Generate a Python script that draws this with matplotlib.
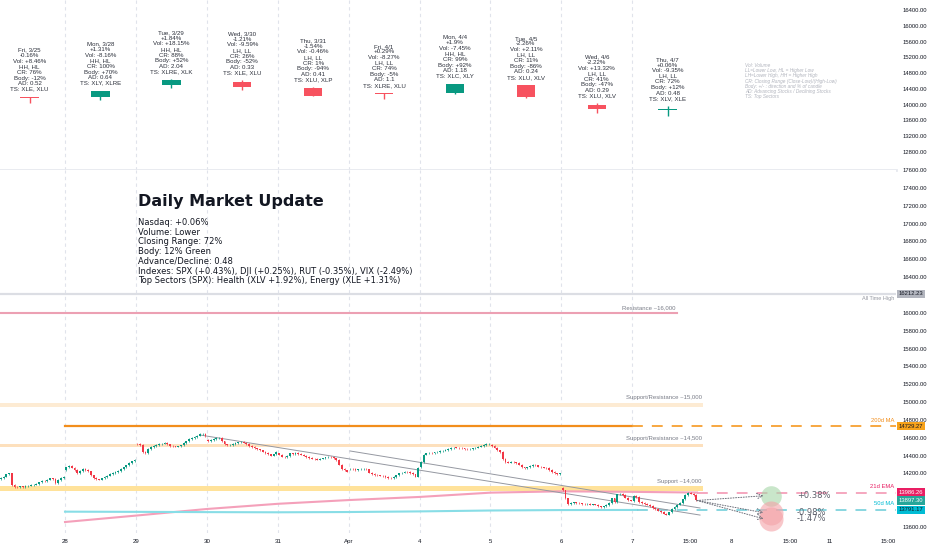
import matplotlib
matplotlib.use("Agg")
import matplotlib.pyplot as plt
import matplotlib.transforms as mtrans

GREEN = "#089981"
RED = "#f23645"
GRID = "#e0e3eb"
TXT = "#131722"
GRAY = "#787b86"

# ---- daily candles (top panel) ----
day_names = ["Fri, 3/25", "Mon, 3/28", "Tue, 3/29", "Wed, 3/30", "Thu, 3/31",
             "Fri, 4/1", "Mon, 4/4", "Tue, 4/5", "Wed, 4/6", "Thu, 4/7"]
day_index = [-1, 0, 1, 2, 3, 4, 5, 6, 7, 8]
d_open = [14188, 14184, 14502, 14567, 14427, 14268, 14293, 14488, 14002, 13867]
d_high = [14205, 14356, 14647, 14620, 14440, 14300, 14535, 14500, 14030, 13967]
d_low = [14040, 14110, 14420, 14380, 14218, 14150, 14275, 14168, 13790, 13717]
d_close = [14169, 14355, 14620, 14442, 14220, 14261, 14532, 14204, 13889, 13897]

pct_chg = ["-0.16%", "+1.31%", "+1.84%", "-1.21%", "-1.54%", "+0.29%", "+1.9%", "-2.26%", "-2.22%", "+0.06%"]
vol_chg = ["+8.46%", "-8.16%", "+18.15%", "-9.59%", "-0.46%", "-8.27%", "-7.45%", "+2.11%", "+13.32%", "-9.35%"]
structure = ["HH, HL", "HH, HL", "HH, HL", "LH, LL", "LH, LL", "LH, LL", "HH, HL", "LH, LL", "LH, LL", "LH, LL"]
closing_range = ["76%", "100%", "88%", "26%", "1%", "74%", "99%", "11%", "41%", "72%"]
body_pct = ["-12%", "+70%", "+52%", "-52%", "-94%", "-5%", "+92%", "-86%", "-47%", "+12%"]
adv_dec = ["0.52", "0.64", "2.04", "0.33", "0.41", "1.1", "1.18", "0.24", "0.29", "0.48"]
top_sectors = ["XLE, XLU", "XLY, XLRE", "XLRE, XLK", "XLE, XLU", "XLU, XLP",
               "XLRE, XLU", "XLC, XLY", "XLU, XLV", "XLU, XLV", "XLV, XLE"]

# ---- 15 min closes (bottom panel) ----
open_0325 = 14140
c_0325 = [14150, 14165, 14190, 14200, 14070, 14050, 14045, 14055, 14050, 14060, 14065, 14070,
          14075, 14080, 14100, 14115, 14110, 14130, 14145, 14140, 14090, 14125, 14150, 14165]
open_0328 = 14235
c_0328 = [14270, 14285, 14265, 14240, 14205, 14230, 14255, 14240, 14225, 14180, 14150, 14135, 14130,
          14145, 14160, 14175, 14195, 14205, 14215, 14230, 14250, 14270, 14290, 14315, 14335, 14352]
open_0329 = 14535
c_0329 = [14530, 14520, 14440, 14430, 14475, 14495, 14510, 14520, 14530, 14535, 14540, 14525, 14510,
          14505, 14500, 14505, 14515, 14540, 14560, 14585, 14595, 14610, 14625, 14640, 14645, 14620]
open_0330 = 14575
c_0330 = [14560, 14575, 14585, 14595, 14600, 14560, 14525, 14515, 14520, 14530, 14540, 14550, 14555,
          14545, 14530, 14510, 14495, 14480, 14470, 14460, 14445, 14430, 14415, 14400, 14415, 14440]
open_0331 = 14425
c_0331 = [14410, 14390, 14380, 14395, 14425, 14420, 14430, 14420, 14410, 14400, 14385, 14375, 14365,
          14360, 14355, 14365, 14370, 14380, 14385, 14380, 14370, 14350, 14300, 14250, 14235, 14220]
open_0401 = 14250
c_0401 = [14255, 14250, 14240, 14245, 14250, 14255, 14245, 14210, 14195, 14185, 14180, 14175, 14170,
          14160, 14150, 14145, 14160, 14180, 14200, 14210, 14220, 14215, 14205, 14190, 14165, 14260]
open_0404 = 14270
c_0404 = [14330, 14410, 14425, 14430, 14425, 14435, 14440, 14450, 14455, 14465, 14475, 14485, 14490,
          14488, 14485, 14480, 14475, 14470, 14475, 14480, 14490, 14500, 14510, 14520, 14530, 14535]
open_0405 = 14520
c_0405 = [14510, 14490, 14460, 14440, 14360, 14330, 14320, 14330, 14325, 14315, 14300, 14270, 14260,
          14270, 14285, 14295, 14290, 14275, 14270, 14265, 14260, 14240, 14215, 14200, 14195, 14200]
open_0406 = 14040
c_0406 = [14010, 13920, 13860, 13870, 13875, 13870, 13865, 13860, 13855, 13860, 13850, 13855, 13850,
          13830, 13820, 13830, 13845, 13870, 13920, 13880, 13965, 13975, 13960, 13930, 13900, 13895]
open_0407 = 13890
c_0407 = [13950, 13935, 13880, 13870, 13860, 13850, 13835, 13815, 13800, 13785, 13770, 13750,
          13740, 13765, 13800, 13825, 13850, 13870, 13910, 13960, 13985, 13975, 13960, 13897.30]

sessions = [(-1, 2, open_0325, c_0325), (0, 0, open_0328, c_0328), (1, 0, open_0329, c_0329),
            (2, 0, open_0330, c_0330), (3, 0, open_0331, c_0331), (4, 0, open_0401, c_0401),
            (5, 0, open_0404, c_0404), (6, 0, open_0405, c_0405), (7, 0, open_0406, c_0406),
            (8, 0, open_0407, c_0407)]
BARS_PER_DAY = 26

# ---- levels / indicators ----
ath = 16212.23
resistance = 16000
sr_15000 = (14950, 14995)
sr_14500 = (14495, 14535)
support_14000 = (14000, 14055)
ma200 = 14729.27
ema21_x = [0, 1, 2, 3, 4, 5, 6, 7, 8, 8.914]
ema21 = [13656, 13728, 13802, 13860, 13902, 13937, 13985, 14000, 13994, 13986.26]
ma50_x = [0, 1, 2, 3, 4, 5, 6, 7, 8.07]
ma50 = [13772, 13770, 13767, 13765, 13768, 13775, 13785, 13790, 13791.17]
last_close = 13897.30
trend_a = ([1.904, 8.956], [14631, 13734])
trend_b = ([4.02, 8.956], [14452, 13813])
targets = [0.38, -0.98, -1.47]

top_ticks = list(range(12800, 16401, 400))
bottom_ticks = [13600, 14200, 14400, 14600, 14800, 15000, 15200, 15400, 15600, 15800,
                16000, 16400, 16600, 16800, 17000, 17200, 17400, 17600]
x_ticks = [0, 1, 2, 3, 4, 5, 6, 7, 8, 8.82, 9.393, 10.226, 10.79, 11.608]
x_labels = ["28", "29", "30", "31", "Apr", "4", "5", "6", "7", "15:00", "8", "15:00", "11", "15:00"]

plt.rcParams["font.family"] = ["DejaVu Sans"]

fig = plt.figure(figsize=(9.32, 5.5), dpi=100)
W = 896 / 932
ax_top = fig.add_axes([0, 1 - 170 / 550, W, 170 / 550])
ax = fig.add_axes([0, 1 - 533 / 550, W, 363 / 550])
XLIM = (-0.917, 11.72)

for a in (ax_top, ax):
    a.set_xlim(*XLIM)
    for s in a.spines.values():
        s.set_visible(False)
    a.yaxis.tick_right()
    a.tick_params(axis="y", length=0, pad=5, labelsize=4.2, labelcolor=TXT)
    for d in range(0, 9):
        a.axvline(d, color=GRID, lw=0.8, dashes=(3, 3), zorder=0)

ax_top.spines["bottom"].set_visible(True)
ax_top.spines["bottom"].set_color("#e7e9ef")
ax_top.spines["bottom"].set_linewidth(2)

# top panel
ax_top.set_ylim(12344, 16654)
ax_top.set_yticks(top_ticks)
ax_top.set_yticklabels([f"{v:.2f}" for v in top_ticks], family="Liberation Sans")
ax_top.set_xticks([])
day_x = [d + 0.5 for d in day_index]
colors_top = [GREEN if c >= o else "#f7525f" for o, c in zip(d_open, d_close)]
ax_top.vlines(day_x, d_low, d_high, colors=colors_top, lw=1.0, zorder=3)
ax_top.bar(day_x, [max(abs(c - o), 30) for o, c in zip(d_open, d_close)], 0.26,
           bottom=[min(o, c) for o, c in zip(d_open, d_close)], color=colors_top, zorder=4)
for i, x in enumerate(day_x):
    txt = "\n".join([day_names[i], pct_chg[i], "Vol: " + vol_chg[i], structure[i],
                     "CR: " + closing_range[i], "Body: " + body_pct[i], "AD: " + adv_dec[i],
                     "TS: " + top_sectors[i]])
    ax_top.annotate(txt, (x, d_high[i]), xytext=(0, 3.5), textcoords="offset points",
                    ha="center", va="bottom", fontsize=4.4, linespacing=1.15,
                    family="Liberation Sans", color="#2a2e39")

legend_txt = ("Vol: Volume\nLL=Lower Low, HL = Higher Low\nLH=Lower High, HH = Higher High\n"
              "CR: Closing Range (Close-Low)/(High-Low)\nBody: +/- : direction and % of candle\n"
              "AD: Advancing Stocks / Declining Stocks\nTS: Top Sectors")
fig.text(745 / 932, 1 - 63 / 550, legend_txt, ha="left", va="top", fontsize=3.4,
         style="italic", color="#b2b5be", linespacing=1.05, family="Liberation Sans")

# bottom panel
ax.set_ylim(13533, 17600)
ax.set_yticks(bottom_ticks)
ax.set_yticklabels([f"{v:.2f}" for v in bottom_ticks], family="Liberation Sans")
ax.set_xticks(x_ticks)
ax.set_xticklabels(x_labels, family="Liberation Sans")
ax.tick_params(axis="x", length=0, pad=4, labelsize=4.4, labelcolor=TXT)

# intraday candles
xs, op, cl = [], [], []
for day, start, first_open, closes in sessions:
    prev = first_open
    for k, c in enumerate(closes):
        xs.append(day + (start + k + 0.5) / BARS_PER_DAY)
        op.append(prev)
        cl.append(c)
        prev = c
WICK = 8
cols = [GREEN if c >= o else RED for o, c in zip(op, cl)]
ax.vlines(xs, [min(o, c) - WICK for o, c in zip(op, cl)], [max(o, c) + WICK for o, c in zip(op, cl)],
          colors=cols, lw=0.5, zorder=5)
ax.bar(xs, [max(abs(c - o), 5) for o, c in zip(op, cl)], 0.68 / BARS_PER_DAY,
       bottom=[min(o, c) for o, c in zip(op, cl)], color=cols, zorder=6)

blend = mtrans.blended_transform_factory(ax.transAxes, ax.transData)

# levels
ax.axhline(ath, color="#dcdee4", lw=1.6, zorder=1)
ax.text(0.998, ath - 25, "All Time High", transform=blend, ha="right", va="top",
        fontsize=4.0, color="#9598a1", family="Liberation Sans")
ax.plot([XLIM[0], 8.63], [resistance, resistance], color="#eca0b3", lw=1.5, zorder=2)
ax.text(8.61, resistance + 25, "Resistance ~16,000", ha="right", va="bottom", fontsize=4.3,
        color=GRAY, family="Liberation Sans")
band_specs = [(sr_15000, "#fdebd3", "Support/Resistance ~15,000"),
              (sr_14500, "#fde0bd", "Support/Resistance ~14,500"),
              (support_14000, "#ffe29a", "Support ~14,000")]
for (lo, hi), fc, lab in band_specs:
    ax.fill_between([XLIM[0], 9.0], lo, hi, color=fc, lw=0, zorder=1)
    ax.text(8.98, hi + 25, lab, ha="right", va="bottom", fontsize=4.3, color=GRAY,
            family="Liberation Sans")

ax.plot([0, 8.0], [ma200, ma200], color="#f28e1c", lw=1.6, zorder=3)
ax.plot([8.0, XLIM[1]], [ma200, ma200], color="#f7a031", lw=1.3, dashes=(6, 5), zorder=3)
ax.plot(ema21_x, ema21, color="#f4a0ba", lw=1.5, zorder=3)
ax.plot([ema21_x[-1], XLIM[1]], [ema21[-1], ema21[-1]], color="#f4a0ba", lw=1.3, dashes=(6, 5), zorder=3)
ax.plot(ma50_x, ma50, color="#88dde6", lw=1.5, zorder=3)
ax.plot([ma50_x[-1], XLIM[1]], [ma50[-1], ma50[-1]], color="#7fd3dd", lw=1.3, dashes=(6, 5), zorder=3)
ax.text(0.998, ma200 + 40, "200d MA", transform=blend, ha="right", va="bottom",
        fontsize=4.2, color="#f28e1c", family="Liberation Sans")
ax.text(0.998, ema21[-1] + 40, "21d EMA", transform=blend, ha="right", va="bottom",
        fontsize=4.2, color="#e91e63", family="Liberation Sans")
ax.text(0.998, ma50[-1] + 40, "50d MA", transform=blend, ha="right", va="bottom",
        fontsize=4.2, color="#00bcd4", family="Liberation Sans")

# trend lines
for tx, ty in (trend_a, trend_b):
    ax.plot(tx, ty, color="#9598a1", lw=0.7, zorder=4)

# projected moves
for p in targets:
    tp = last_close * (1 + p / 100)
    ax.scatter([9.96], [tp], s=220 if p > 0 else 300,
               color="#a5d6a7" if p > 0 else "#f4a3a8", alpha=0.6, lw=0, zorder=7)
    ax.annotate("", xy=(9.85, tp), xytext=(8.914, last_close),
                arrowprops=dict(arrowstyle="->", linestyle=":", color="#6a6d78", lw=0.7,
                                shrinkA=0, shrinkB=0), zorder=8)
    ax.text(10.32, tp, f"{p:+.2f}%", ha="left", va="center", fontsize=6, color="#5d606b", zorder=8)

# price tags on the axis
tags = [(ath, "16212.23", "#b2b5be", TXT), (ma200, "14729.27", "#f7a21b", TXT),
        (ema21[-1], "13986.26", "#e91e63", "white"), (last_close, "13897.30", "#26a69a", "white"),
        (ma50[-1], "13791.17", "#00bcd4", TXT)]
for price, label, fc, tc in tags:
    ax.text(1.003, price, label, transform=blend, ha="left", va="center", fontsize=4.2,
            color=tc, family="Liberation Sans", zorder=10, clip_on=False,
            bbox=dict(boxstyle="square,pad=0.3", fc=fc, ec="none"))

# note
fig.text(138 / 932, 1 - 202 / 550, "Daily Market Update", ha="left", va="center",
         fontsize=11.5, fontweight="bold", color="#131722")
note = ("Nasdaq: +0.06%\nVolume: Lower\nClosing Range: 72%\nBody: 12% Green\nAdvance/Decline: 0.48\n"
        "Indexes: SPX (+0.43%), DJI (+0.25%), RUT (-0.35%), VIX (-2.49%)\n"
        "Top Sectors (SPX): Health (XLV +1.92%), Energy (XLE +1.31%)")
fig.text(138 / 932, 1 - 218 / 550, note, ha="left", va="top", fontsize=6, linespacing=1.1,
         color="#131722")

fig.savefig("out.png", dpi=100, facecolor="white")
